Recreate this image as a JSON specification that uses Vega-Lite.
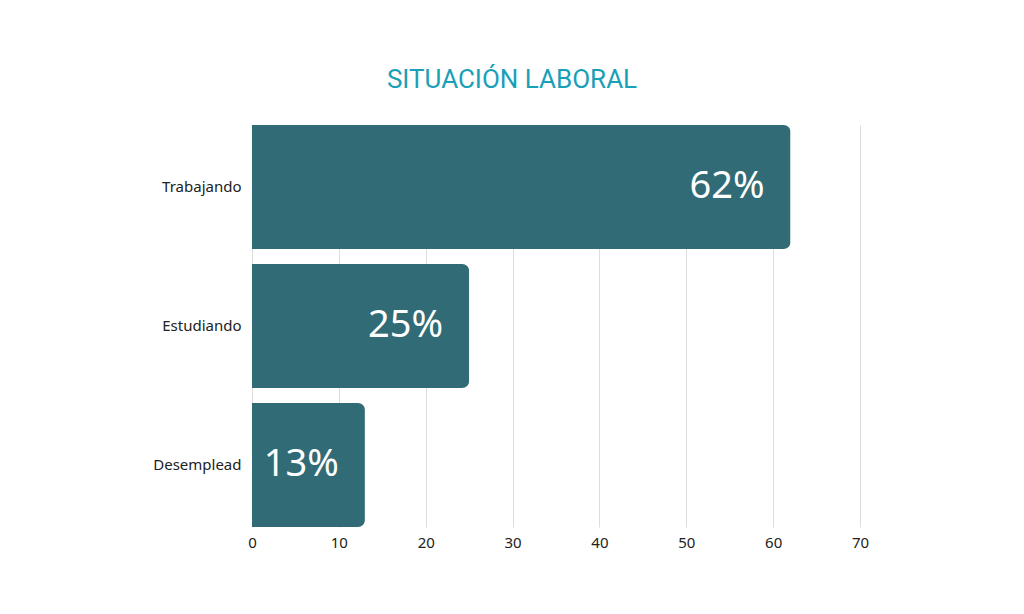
{
  "$schema": "https://vega.github.io/schema/vega-lite/v6.json",
  "width": 608,
  "height": 402,
  "autosize": {"type": "none"},
  "padding": {"left": 252, "top": 125, "right": 164, "bottom": 87},
  "background": "white",
  "title": {
    "text": "SITUACIÓN LABORAL",
    "color": "#1a9fb8",
    "font": "Roboto",
    "fontSize": 26,
    "fontWeight": "normal",
    "anchor": "middle",
    "dx": -44,
    "offset": 32
  },
  "data": {
    "values": [
      {"situacion": "Trabajando", "pct": 62, "label": "62%"},
      {"situacion": "Estudiando", "pct": 25, "label": "25%"},
      {"situacion": "Desemplead", "pct": 13, "label": "13%"}
    ]
  },
  "encoding": {
    "y": {
      "field": "situacion",
      "type": "nominal",
      "sort": null,
      "title": null,
      "scale": {"paddingInner": 0.108, "paddingOuter": 0},
      "axis": {
        "domain": false,
        "ticks": false,
        "labelPadding": 11,
        "labelFontSize": 15,
        "labelFont": "Noto Sans",
        "labelColor": "#222222"
      }
    },
    "x": {
      "field": "pct",
      "type": "quantitative",
      "title": null,
      "scale": {"domain": [0, 70]},
      "axis": {
        "values": [0, 10, 20, 30, 40, 50, 60, 70],
        "domain": false,
        "ticks": false,
        "labelFlush": false,
        "labelPadding": 8,
        "labelFontSize": 15,
        "labelFont": "Noto Sans",
        "labelColor": "#222222",
        "gridColor": "#dddddd",
        "gridWidth": 1
      }
    }
  },
  "layer": [
    {
      "mark": {
        "type": "bar",
        "color": "#316b76",
        "cornerRadiusTopRight": 7,
        "cornerRadiusBottomRight": 7
      }
    },
    {
      "mark": {
        "type": "text",
        "align": "right",
        "baseline": "middle",
        "dx": -26,
        "fontSize": 38,
        "font": "Noto Sans",
        "color": "white"
      },
      "encoding": {
        "text": {"field": "label", "type": "nominal"}
      }
    }
  ],
  "config": {"view": {"stroke": null}}
}
